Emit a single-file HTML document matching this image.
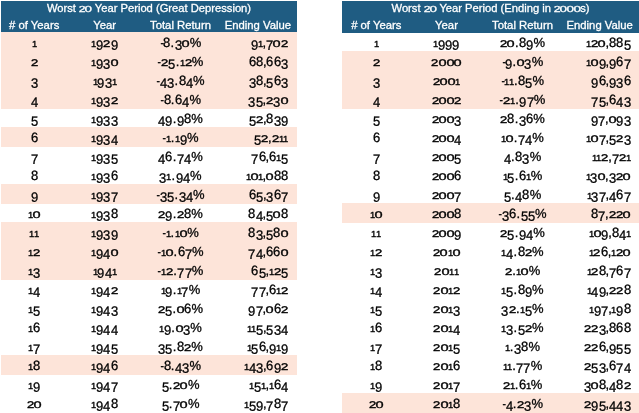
<!DOCTYPE html>
<html><head><meta charset="utf-8"><title>Worst 20 Year Periods</title>
<style>
html,body{margin:0;padding:0;background:#fff;}
body{width:639px;height:413px;position:relative;overflow:hidden;font-family:"Liberation Sans",sans-serif;}
.tbl{position:absolute;top:1px;height:412px;}
.L{left:1px;width:296px;}
.R{left:342px;width:297px;}
.hd{position:absolute;left:0;top:0;width:100%;height:31px;background:#1f5c82;color:#fff;font-size:11.3px;-webkit-text-stroke:0.3px #fff;}
.R .hd{height:32px}
.title{position:absolute;left:0;width:100%;top:-1px;height:16px;line-height:16px;text-align:center;white-space:nowrap;font-size:11.2px;}

.hr{position:absolute;left:0;width:100%;top:16px;height:15px;line-height:16px;}
.r{position:absolute;left:0;width:100%;height:19.05px;line-height:19.05px;font-size:13px;color:#000;}
.bg{position:absolute;left:0;width:100%;height:19.05px;background:#fde4d9;}
.r span,.hr span{position:absolute;top:0;white-space:nowrap;text-align:center;}
.r span{top:0;transform:scaleY(1.04);transform-origin:50% 14.03px;-webkit-text-stroke:0.3px #000;}
i{font-style:normal;display:inline-block;line-height:1;transform-origin:50% 0.8465em;}
i.x{transform:scaleY(0.71) rotate(0.03deg);-webkit-text-stroke:0.5px #000;}
i.o{transform:scale(1.12,0.71) rotate(0.03deg);margin:0 0.25px;-webkit-text-stroke:0.4px #000;}
i.l{transform:scale(0.72,0.70) rotate(0.03deg);margin:0 -1.4px 0 -1.2px;}
i.d{transform:translateY(2.55px) rotate(0.03deg);}
i.a{transform:rotate(0.03deg);}
i.h{transform:scaleX(0.8);margin:0 -0.6px 0 -0.2px;}
i.p{margin:0 0.5px 0 0.1px;}
i.q{margin:0 -0.1px 0 -0.3px;}
.title i.x{transform:scale(1.08,0.78) rotate(0.03deg);-webkit-text-stroke:0.4px #fff;}
.title i.o{transform:scale(1.2,0.78) rotate(0.03deg);margin:0 0.2px;-webkit-text-stroke:0.35px #fff;}
.c1{left:0;width:66.4px;}
.c2{left:61px;width:85.4px;}
.c3{left:146px;width:67px;}
.c4{left:214px;width:85.8px;}
.r .c4{text-align:right;width:73.2px;}
.R .c1{left:0;width:68.6px;}
.R .c2{left:68px;width:73px;}
.R .c3{left:142px;width:77px;}
.R .c4{left:220px;width:75.4px;}
.R .r .c4{text-align:right;width:68.8px;}
</style></head>
<body>
<div class="tbl L">
<div class="hd"><div class="title">Worst <i class="x">2</i><i class="o">0</i> Year Period (Great Depression)</div><div class="hr"><span class="c1"># of Years</span><span class="c2">Year</span><span class="c3">Total Return</span><span class="c4">Ending Value</span></div></div>
<div class="bg" style="top:31px;height:77px"></div>
<div class="bg" style="top:126px;height:20px"></div>
<div class="bg" style="top:183px;height:20px"></div>
<div class="bg" style="top:221px;height:58px"></div>
<div class="bg" style="top:354px;height:20px"></div>
<div class="r" style="top:31.87px"><span class="c1"><i class="x l">1</i></span><span class="c2"><i class="x l">1</i><i class="d">9</i><i class="x">2</i><i class="d">9</i></span><span class="c3"><i class="h">-</i><i class="a">8</i><i class="p">.</i><i class="d">3</i><i class="o">0</i>%</span><span class="c4"><i class="d">9</i><i class="x l">1</i><i class="q">,</i><i class="d">7</i><i class="o">0</i><i class="x">2</i></span></div>
<div class="r" style="top:50.87px"><span class="c1"><i class="x">2</i></span><span class="c2"><i class="x l">1</i><i class="d">9</i><i class="d">3</i><i class="o">0</i></span><span class="c3"><i class="h">-</i><i class="x">2</i><i class="d">5</i><i class="p">.</i><i class="x l">1</i><i class="x">2</i>%</span><span class="c4"><i class="a">6</i><i class="a">8</i><i class="q">,</i><i class="a">6</i><i class="a">6</i><i class="d">3</i></span></div>
<div class="r" style="top:69.87px"><span class="c1"><i class="d">3</i></span><span class="c2"><i class="x l">1</i><i class="d">9</i><i class="d">3</i><i class="x l">1</i></span><span class="c3"><i class="h">-</i><i class="d">4</i><i class="d">3</i><i class="p">.</i><i class="a">8</i><i class="d">4</i>%</span><span class="c4"><i class="d">3</i><i class="a">8</i><i class="q">,</i><i class="d">5</i><i class="a">6</i><i class="d">3</i></span></div>
<div class="r" style="top:88.87px"><span class="c1"><i class="d">4</i></span><span class="c2"><i class="x l">1</i><i class="d">9</i><i class="d">3</i><i class="x">2</i></span><span class="c3"><i class="h">-</i><i class="a">8</i><i class="p">.</i><i class="a">6</i><i class="d">4</i>%</span><span class="c4"><i class="d">3</i><i class="d">5</i><i class="q">,</i><i class="x">2</i><i class="d">3</i><i class="o">0</i></span></div>
<div class="r" style="top:107.87px"><span class="c1"><i class="d">5</i></span><span class="c2"><i class="x l">1</i><i class="d">9</i><i class="d">3</i><i class="d">3</i></span><span class="c3"><i class="d">4</i><i class="d">9</i><i class="p">.</i><i class="d">9</i><i class="a">8</i>%</span><span class="c4"><i class="d">5</i><i class="x">2</i><i class="q">,</i><i class="a">8</i><i class="d">3</i><i class="d">9</i></span></div>
<div class="r" style="top:126.87px"><span class="c1"><i class="a">6</i></span><span class="c2"><i class="x l">1</i><i class="d">9</i><i class="d">3</i><i class="d">4</i></span><span class="c3"><i class="h">-</i><i class="x l">1</i><i class="p">.</i><i class="x l">1</i><i class="d">9</i>%</span><span class="c4"><i class="d">5</i><i class="x">2</i><i class="q">,</i><i class="x">2</i><i class="x l">1</i><i class="x l">1</i></span></div>
<div class="r" style="top:145.87px"><span class="c1"><i class="d">7</i></span><span class="c2"><i class="x l">1</i><i class="d">9</i><i class="d">3</i><i class="d">5</i></span><span class="c3"><i class="d">4</i><i class="a">6</i><i class="p">.</i><i class="d">7</i><i class="d">4</i>%</span><span class="c4"><i class="d">7</i><i class="a">6</i><i class="q">,</i><i class="a">6</i><i class="x l">1</i><i class="d">5</i></span></div>
<div class="r" style="top:164.87px"><span class="c1"><i class="a">8</i></span><span class="c2"><i class="x l">1</i><i class="d">9</i><i class="d">3</i><i class="a">6</i></span><span class="c3"><i class="d">3</i><i class="x l">1</i><i class="p">.</i><i class="d">9</i><i class="d">4</i>%</span><span class="c4"><i class="x l">1</i><i class="o">0</i><i class="x l">1</i><i class="q">,</i><i class="o">0</i><i class="a">8</i><i class="a">8</i></span></div>
<div class="r" style="top:183.87px"><span class="c1"><i class="d">9</i></span><span class="c2"><i class="x l">1</i><i class="d">9</i><i class="d">3</i><i class="d">7</i></span><span class="c3"><i class="h">-</i><i class="d">3</i><i class="d">5</i><i class="p">.</i><i class="d">3</i><i class="d">4</i>%</span><span class="c4"><i class="a">6</i><i class="d">5</i><i class="q">,</i><i class="d">3</i><i class="a">6</i><i class="d">7</i></span></div>
<div class="r" style="top:202.87px"><span class="c1"><i class="x l">1</i><i class="o">0</i></span><span class="c2"><i class="x l">1</i><i class="d">9</i><i class="d">3</i><i class="a">8</i></span><span class="c3"><i class="x">2</i><i class="d">9</i><i class="p">.</i><i class="x">2</i><i class="a">8</i>%</span><span class="c4"><i class="a">8</i><i class="d">4</i><i class="q">,</i><i class="d">5</i><i class="o">0</i><i class="a">8</i></span></div>
<div class="r" style="top:221.87px"><span class="c1"><i class="x l">1</i><i class="x l">1</i></span><span class="c2"><i class="x l">1</i><i class="d">9</i><i class="d">3</i><i class="d">9</i></span><span class="c3"><i class="h">-</i><i class="x l">1</i><i class="p">.</i><i class="x l">1</i><i class="o">0</i>%</span><span class="c4"><i class="a">8</i><i class="d">3</i><i class="q">,</i><i class="d">5</i><i class="a">8</i><i class="o">0</i></span></div>
<div class="r" style="top:240.87px"><span class="c1"><i class="x l">1</i><i class="x">2</i></span><span class="c2"><i class="x l">1</i><i class="d">9</i><i class="d">4</i><i class="o">0</i></span><span class="c3"><i class="h">-</i><i class="x l">1</i><i class="o">0</i><i class="p">.</i><i class="a">6</i><i class="d">7</i>%</span><span class="c4"><i class="d">7</i><i class="d">4</i><i class="q">,</i><i class="a">6</i><i class="a">6</i><i class="o">0</i></span></div>
<div class="r" style="top:259.87px"><span class="c1"><i class="x l">1</i><i class="d">3</i></span><span class="c2"><i class="x l">1</i><i class="d">9</i><i class="d">4</i><i class="x l">1</i></span><span class="c3"><i class="h">-</i><i class="x l">1</i><i class="x">2</i><i class="p">.</i><i class="d">7</i><i class="d">7</i>%</span><span class="c4"><i class="a">6</i><i class="d">5</i><i class="q">,</i><i class="x l">1</i><i class="x">2</i><i class="d">5</i></span></div>
<div class="r" style="top:278.87px"><span class="c1"><i class="x l">1</i><i class="d">4</i></span><span class="c2"><i class="x l">1</i><i class="d">9</i><i class="d">4</i><i class="x">2</i></span><span class="c3"><i class="x l">1</i><i class="d">9</i><i class="p">.</i><i class="x l">1</i><i class="d">7</i>%</span><span class="c4"><i class="d">7</i><i class="d">7</i><i class="q">,</i><i class="a">6</i><i class="x l">1</i><i class="x">2</i></span></div>
<div class="r" style="top:297.87px"><span class="c1"><i class="x l">1</i><i class="d">5</i></span><span class="c2"><i class="x l">1</i><i class="d">9</i><i class="d">4</i><i class="d">3</i></span><span class="c3"><i class="x">2</i><i class="d">5</i><i class="p">.</i><i class="o">0</i><i class="a">6</i>%</span><span class="c4"><i class="d">9</i><i class="d">7</i><i class="q">,</i><i class="o">0</i><i class="a">6</i><i class="x">2</i></span></div>
<div class="r" style="top:316.87px"><span class="c1"><i class="x l">1</i><i class="a">6</i></span><span class="c2"><i class="x l">1</i><i class="d">9</i><i class="d">4</i><i class="d">4</i></span><span class="c3"><i class="x l">1</i><i class="d">9</i><i class="p">.</i><i class="o">0</i><i class="d">3</i>%</span><span class="c4"><i class="x l">1</i><i class="x l">1</i><i class="d">5</i><i class="q">,</i><i class="d">5</i><i class="d">3</i><i class="d">4</i></span></div>
<div class="r" style="top:335.87px"><span class="c1"><i class="x l">1</i><i class="d">7</i></span><span class="c2"><i class="x l">1</i><i class="d">9</i><i class="d">4</i><i class="d">5</i></span><span class="c3"><i class="d">3</i><i class="d">5</i><i class="p">.</i><i class="a">8</i><i class="x">2</i>%</span><span class="c4"><i class="x l">1</i><i class="d">5</i><i class="a">6</i><i class="q">,</i><i class="d">9</i><i class="x l">1</i><i class="d">9</i></span></div>
<div class="r" style="top:354.87px"><span class="c1"><i class="x l">1</i><i class="a">8</i></span><span class="c2"><i class="x l">1</i><i class="d">9</i><i class="d">4</i><i class="a">6</i></span><span class="c3"><i class="h">-</i><i class="a">8</i><i class="p">.</i><i class="d">4</i><i class="d">3</i>%</span><span class="c4"><i class="x l">1</i><i class="d">4</i><i class="d">3</i><i class="q">,</i><i class="a">6</i><i class="d">9</i><i class="x">2</i></span></div>
<div class="r" style="top:373.87px"><span class="c1"><i class="x l">1</i><i class="d">9</i></span><span class="c2"><i class="x l">1</i><i class="d">9</i><i class="d">4</i><i class="d">7</i></span><span class="c3"><i class="d">5</i><i class="p">.</i><i class="x">2</i><i class="o">0</i>%</span><span class="c4"><i class="x l">1</i><i class="d">5</i><i class="x l">1</i><i class="q">,</i><i class="x l">1</i><i class="a">6</i><i class="d">4</i></span></div>
<div class="r" style="top:392.87px"><span class="c1"><i class="x">2</i><i class="o">0</i></span><span class="c2"><i class="x l">1</i><i class="d">9</i><i class="d">4</i><i class="a">8</i></span><span class="c3"><i class="d">5</i><i class="p">.</i><i class="d">7</i><i class="o">0</i>%</span><span class="c4"><i class="x l">1</i><i class="d">5</i><i class="d">9</i><i class="q">,</i><i class="d">7</i><i class="a">8</i><i class="d">7</i></span></div>
</div>
<div class="tbl R">
<div class="hd"><div class="title">Worst <i class="x">2</i><i class="o">0</i> Year Period (Ending in <i class="x">2</i><i class="o">0</i><i class="o">0</i><i class="o">0</i>s)</div><div class="hr"><span class="c1"># of Years</span><span class="c2">Year</span><span class="c3">Total Return</span><span class="c4">Ending Value</span></div></div>
<div class="bg" style="top:50px;height:58px"></div>
<div class="bg" style="top:202px;height:20px"></div>
<div class="bg" style="top:392px;height:20px"></div>
<div class="r" style="top:31.87px"><span class="c1"><i class="x l">1</i></span><span class="c2"><i class="x l">1</i><i class="d">9</i><i class="d">9</i><i class="d">9</i></span><span class="c3"><i class="x">2</i><i class="o">0</i><i class="p">.</i><i class="a">8</i><i class="d">9</i>%</span><span class="c4"><i class="x l">1</i><i class="x">2</i><i class="o">0</i><i class="q">,</i><i class="a">8</i><i class="a">8</i><i class="d">5</i></span></div>
<div class="r" style="top:50.87px"><span class="c1"><i class="x">2</i></span><span class="c2"><i class="x">2</i><i class="o">0</i><i class="o">0</i><i class="o">0</i></span><span class="c3"><i class="h">-</i><i class="d">9</i><i class="p">.</i><i class="o">0</i><i class="d">3</i>%</span><span class="c4"><i class="x l">1</i><i class="o">0</i><i class="d">9</i><i class="q">,</i><i class="d">9</i><i class="a">6</i><i class="d">7</i></span></div>
<div class="r" style="top:69.87px"><span class="c1"><i class="d">3</i></span><span class="c2"><i class="x">2</i><i class="o">0</i><i class="o">0</i><i class="x l">1</i></span><span class="c3"><i class="h">-</i><i class="x l">1</i><i class="x l">1</i><i class="p">.</i><i class="a">8</i><i class="d">5</i>%</span><span class="c4"><i class="d">9</i><i class="a">6</i><i class="q">,</i><i class="d">9</i><i class="d">3</i><i class="a">6</i></span></div>
<div class="r" style="top:88.87px"><span class="c1"><i class="d">4</i></span><span class="c2"><i class="x">2</i><i class="o">0</i><i class="o">0</i><i class="x">2</i></span><span class="c3"><i class="h">-</i><i class="x">2</i><i class="x l">1</i><i class="p">.</i><i class="d">9</i><i class="d">7</i>%</span><span class="c4"><i class="d">7</i><i class="d">5</i><i class="q">,</i><i class="a">6</i><i class="d">4</i><i class="d">3</i></span></div>
<div class="r" style="top:107.87px"><span class="c1"><i class="d">5</i></span><span class="c2"><i class="x">2</i><i class="o">0</i><i class="o">0</i><i class="d">3</i></span><span class="c3"><i class="x">2</i><i class="a">8</i><i class="p">.</i><i class="d">3</i><i class="a">6</i>%</span><span class="c4"><i class="d">9</i><i class="d">7</i><i class="q">,</i><i class="o">0</i><i class="d">9</i><i class="d">3</i></span></div>
<div class="r" style="top:126.87px"><span class="c1"><i class="a">6</i></span><span class="c2"><i class="x">2</i><i class="o">0</i><i class="o">0</i><i class="d">4</i></span><span class="c3"><i class="x l">1</i><i class="o">0</i><i class="p">.</i><i class="d">7</i><i class="d">4</i>%</span><span class="c4"><i class="x l">1</i><i class="o">0</i><i class="d">7</i><i class="q">,</i><i class="d">5</i><i class="x">2</i><i class="d">3</i></span></div>
<div class="r" style="top:145.87px"><span class="c1"><i class="d">7</i></span><span class="c2"><i class="x">2</i><i class="o">0</i><i class="o">0</i><i class="d">5</i></span><span class="c3"><i class="d">4</i><i class="p">.</i><i class="a">8</i><i class="d">3</i>%</span><span class="c4"><i class="x l">1</i><i class="x l">1</i><i class="x">2</i><i class="q">,</i><i class="d">7</i><i class="x">2</i><i class="x l">1</i></span></div>
<div class="r" style="top:164.87px"><span class="c1"><i class="a">8</i></span><span class="c2"><i class="x">2</i><i class="o">0</i><i class="o">0</i><i class="a">6</i></span><span class="c3"><i class="x l">1</i><i class="d">5</i><i class="p">.</i><i class="a">6</i><i class="x l">1</i>%</span><span class="c4"><i class="x l">1</i><i class="d">3</i><i class="o">0</i><i class="q">,</i><i class="d">3</i><i class="x">2</i><i class="o">0</i></span></div>
<div class="r" style="top:183.87px"><span class="c1"><i class="d">9</i></span><span class="c2"><i class="x">2</i><i class="o">0</i><i class="o">0</i><i class="d">7</i></span><span class="c3"><i class="d">5</i><i class="p">.</i><i class="d">4</i><i class="a">8</i>%</span><span class="c4"><i class="x l">1</i><i class="d">3</i><i class="d">7</i><i class="q">,</i><i class="d">4</i><i class="a">6</i><i class="d">7</i></span></div>
<div class="r" style="top:202.87px"><span class="c1"><i class="x l">1</i><i class="o">0</i></span><span class="c2"><i class="x">2</i><i class="o">0</i><i class="o">0</i><i class="a">8</i></span><span class="c3"><i class="h">-</i><i class="d">3</i><i class="a">6</i><i class="p">.</i><i class="d">5</i><i class="d">5</i>%</span><span class="c4"><i class="a">8</i><i class="d">7</i><i class="q">,</i><i class="x">2</i><i class="x">2</i><i class="o">0</i></span></div>
<div class="r" style="top:221.87px"><span class="c1"><i class="x l">1</i><i class="x l">1</i></span><span class="c2"><i class="x">2</i><i class="o">0</i><i class="o">0</i><i class="d">9</i></span><span class="c3"><i class="x">2</i><i class="d">5</i><i class="p">.</i><i class="d">9</i><i class="d">4</i>%</span><span class="c4"><i class="x l">1</i><i class="o">0</i><i class="d">9</i><i class="q">,</i><i class="a">8</i><i class="d">4</i><i class="x l">1</i></span></div>
<div class="r" style="top:240.87px"><span class="c1"><i class="x l">1</i><i class="x">2</i></span><span class="c2"><i class="x">2</i><i class="o">0</i><i class="x l">1</i><i class="o">0</i></span><span class="c3"><i class="x l">1</i><i class="d">4</i><i class="p">.</i><i class="a">8</i><i class="x">2</i>%</span><span class="c4"><i class="x l">1</i><i class="x">2</i><i class="a">6</i><i class="q">,</i><i class="x l">1</i><i class="x">2</i><i class="o">0</i></span></div>
<div class="r" style="top:259.87px"><span class="c1"><i class="x l">1</i><i class="d">3</i></span><span class="c2"><i class="x">2</i><i class="o">0</i><i class="x l">1</i><i class="x l">1</i></span><span class="c3"><i class="x">2</i><i class="p">.</i><i class="x l">1</i><i class="o">0</i>%</span><span class="c4"><i class="x l">1</i><i class="x">2</i><i class="a">8</i><i class="q">,</i><i class="d">7</i><i class="a">6</i><i class="d">7</i></span></div>
<div class="r" style="top:278.87px"><span class="c1"><i class="x l">1</i><i class="d">4</i></span><span class="c2"><i class="x">2</i><i class="o">0</i><i class="x l">1</i><i class="x">2</i></span><span class="c3"><i class="x l">1</i><i class="d">5</i><i class="p">.</i><i class="a">8</i><i class="d">9</i>%</span><span class="c4"><i class="x l">1</i><i class="d">4</i><i class="d">9</i><i class="q">,</i><i class="x">2</i><i class="x">2</i><i class="a">8</i></span></div>
<div class="r" style="top:297.87px"><span class="c1"><i class="x l">1</i><i class="d">5</i></span><span class="c2"><i class="x">2</i><i class="o">0</i><i class="x l">1</i><i class="d">3</i></span><span class="c3"><i class="d">3</i><i class="x">2</i><i class="p">.</i><i class="x l">1</i><i class="d">5</i>%</span><span class="c4"><i class="x l">1</i><i class="d">9</i><i class="d">7</i><i class="q">,</i><i class="x l">1</i><i class="d">9</i><i class="a">8</i></span></div>
<div class="r" style="top:316.87px"><span class="c1"><i class="x l">1</i><i class="a">6</i></span><span class="c2"><i class="x">2</i><i class="o">0</i><i class="x l">1</i><i class="d">4</i></span><span class="c3"><i class="x l">1</i><i class="d">3</i><i class="p">.</i><i class="d">5</i><i class="x">2</i>%</span><span class="c4"><i class="x">2</i><i class="x">2</i><i class="d">3</i><i class="q">,</i><i class="a">8</i><i class="a">6</i><i class="a">8</i></span></div>
<div class="r" style="top:335.87px"><span class="c1"><i class="x l">1</i><i class="d">7</i></span><span class="c2"><i class="x">2</i><i class="o">0</i><i class="x l">1</i><i class="d">5</i></span><span class="c3"><i class="x l">1</i><i class="p">.</i><i class="d">3</i><i class="a">8</i>%</span><span class="c4"><i class="x">2</i><i class="x">2</i><i class="a">6</i><i class="q">,</i><i class="d">9</i><i class="d">5</i><i class="d">5</i></span></div>
<div class="r" style="top:354.87px"><span class="c1"><i class="x l">1</i><i class="a">8</i></span><span class="c2"><i class="x">2</i><i class="o">0</i><i class="x l">1</i><i class="a">6</i></span><span class="c3"><i class="x l">1</i><i class="x l">1</i><i class="p">.</i><i class="d">7</i><i class="d">7</i>%</span><span class="c4"><i class="x">2</i><i class="d">5</i><i class="d">3</i><i class="q">,</i><i class="a">6</i><i class="d">7</i><i class="d">4</i></span></div>
<div class="r" style="top:373.87px"><span class="c1"><i class="x l">1</i><i class="d">9</i></span><span class="c2"><i class="x">2</i><i class="o">0</i><i class="x l">1</i><i class="d">7</i></span><span class="c3"><i class="x">2</i><i class="x l">1</i><i class="p">.</i><i class="a">6</i><i class="x l">1</i>%</span><span class="c4"><i class="d">3</i><i class="o">0</i><i class="a">8</i><i class="q">,</i><i class="d">4</i><i class="a">8</i><i class="x">2</i></span></div>
<div class="r" style="top:392.87px"><span class="c1"><i class="x">2</i><i class="o">0</i></span><span class="c2"><i class="x">2</i><i class="o">0</i><i class="x l">1</i><i class="a">8</i></span><span class="c3"><i class="h">-</i><i class="d">4</i><i class="p">.</i><i class="x">2</i><i class="d">3</i>%</span><span class="c4"><i class="x">2</i><i class="d">9</i><i class="d">5</i><i class="q">,</i><i class="d">4</i><i class="d">4</i><i class="d">3</i></span></div>
</div>
</body></html>
